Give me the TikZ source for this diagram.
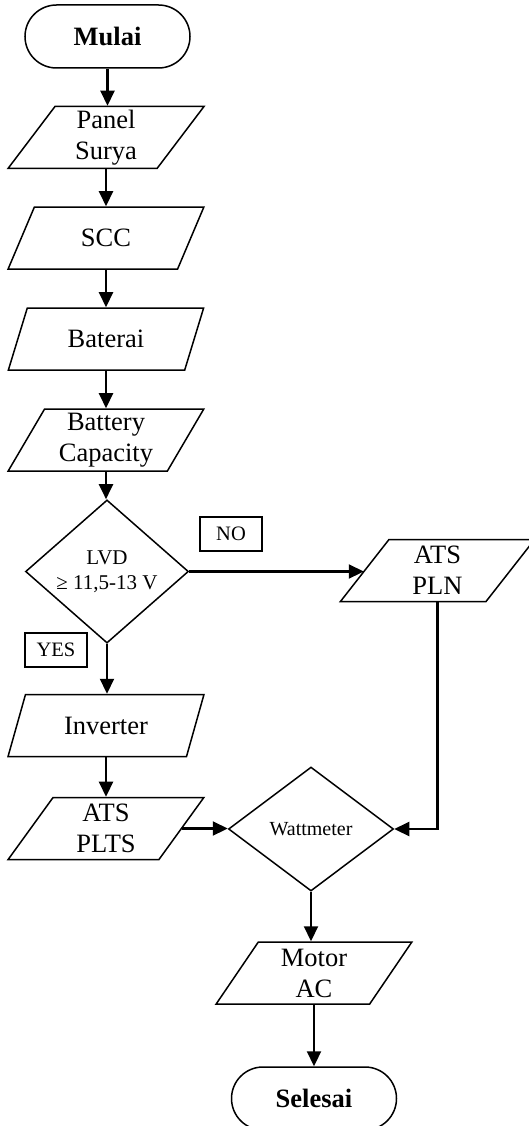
\documentclass[tikz,border=0pt]{standalone}
\usepackage{fontspec}
\setmainfont{Liberation Serif}
\usetikzlibrary{shapes.geometric,shapes.misc,arrows.meta}

\tikzset{
  base/.style={draw, line width=1.5pt, inner sep=0pt, align=center,
    font=\fontsize{26.5}{31}\selectfont},
  term/.style={base, rounded rectangle, minimum width=165pt, minimum height=63pt,
    font=\fontsize{26.5}{31}\selectfont\bfseries},
  io/.style={base, trapezium, trapezium left angle=62.7, trapezium right angle=117.3,
    trapezium stretches=true, minimum width=196pt, minimum height=62pt},
  decide/.style={base, diamond, font=\fontsize{21}{25}\selectfont},
  tag/.style={draw, line width=1.3pt, minimum width=62pt, minimum height=34pt,
    inner sep=0pt, font=\fontsize{20.5}{24}\selectfont},
  flow/.style={line width=2.2pt, -{Triangle[length=15pt,width=14pt]}},
}

\begin{document}
\begin{tikzpicture}[x=1pt, y=-1pt]
  \useasboundingbox (0,0) rectangle (528,1126);

  % main column
  \node[term]   (mulai)   at (107.5,36.5) {Mulai};
  \node[io]     (panel)   at (106,137.5)  {Panel\\Surya};
  \node[io]     (scc)     at (106,238)    {SCC};
  \node[io]     (bat)     at (106,339)    {Baterai};
  \node[io]     (cap)     at (106,440)    {Battery\\Capacity};
  \node[decide, minimum width=163pt, minimum height=123pt]
                (lvd)     at (107,571.5)  {LVD\\≥ 11,5-13 V};
  \node[io]     (inv)     at (106,725.5)  {Inverter};
  \node[io]     (plts)    at (106,828.5)  {ATS\\PLTS};

  % grid branch
  \node[io]     (pln)     at (437.5,570.5) {ATS\\PLN};

  % measurement and load
  \node[decide, minimum width=165pt, minimum height=124pt,
        font=\fontsize{20}{24}\selectfont]
                (watt)    at (311,829)    {Wattmeter};
  \node[io]     (motor)   at (314,973)    {Motor\\AC};
  \node[term]   (selesai) at (314,1098.5) {Selesai};

  % branch labels
  \node[tag] (no)  at (231,534) {NO};
  \node[tag] (yes) at (56,650)  {YES};

  % connectors
  \draw[flow] (mulai.south) -- (mulai.south |- panel.north);
  \draw[flow] (panel.south) -- (panel.south |- scc.north);
  \draw[flow] (scc.south)   -- (scc.south |- bat.north);
  \draw[flow] (bat.south)   -- (bat.south |- cap.north);
  \draw[flow] (cap.south)   -- (cap.south |- lvd.north);
  \draw[flow] (lvd.east)    -- (lvd.east -| pln.west);
  \draw[flow] (lvd.south)   -- (lvd.south |- inv.north);
  \draw[flow] (inv.south)   -- (inv.south |- plts.north);
  \draw[flow] (plts.east)   -- (plts.east -| watt.west);
  \draw[flow] (pln.south)   |- (watt.east);
  \draw[flow] (watt.south)  -- (watt.south |- motor.north);
  \draw[flow] (motor.south) -- (motor.south |- selesai.north);
\end{tikzpicture}
\end{document}
